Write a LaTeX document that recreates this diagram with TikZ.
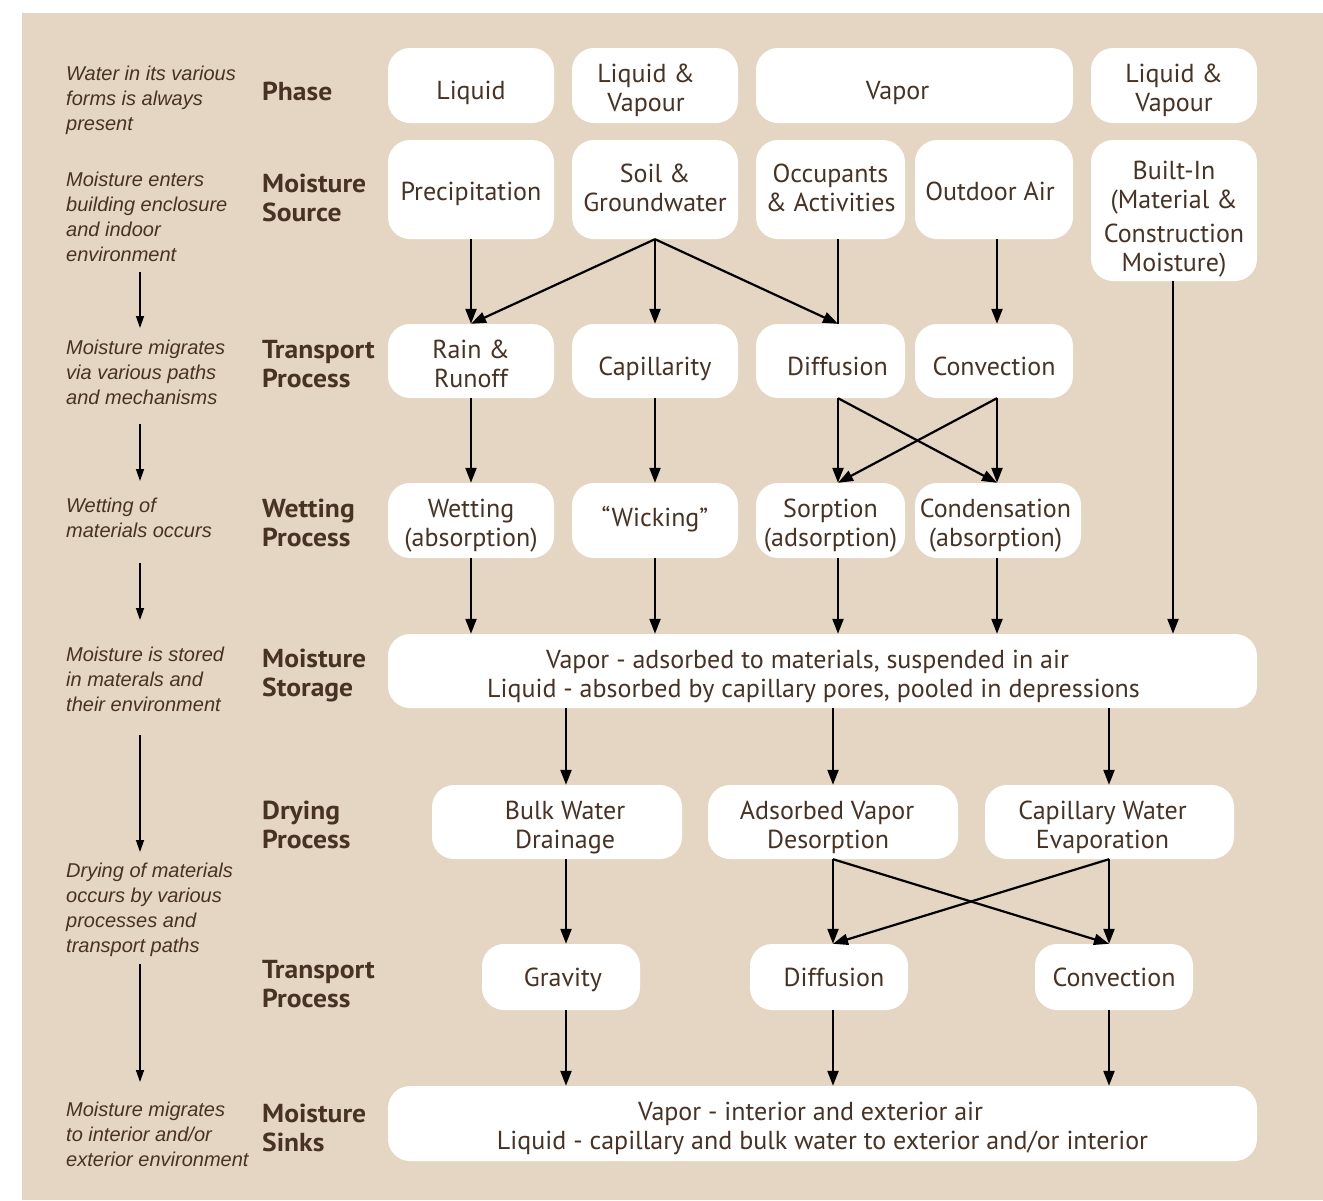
\documentclass[tikz,border=0pt]{standalone}
\usepackage{fontspec}
\setmainfont{PT Sans}
\newfontfamily\notefont{Liberation Sans}
\newfontfamily\lblfont{PT Sans}[FakeStretch=1.06]
\usetikzlibrary{arrows.meta}
\definecolor{bg}{RGB}{228,214,194}
\definecolor{txt}{RGB}{72,50,36}
\newcommand\bxh{34pt}
\newcommand\bxd{6pt}
\newcommand\fl[1]{\rule{0pt}{#1}}
\tikzset{
  bxh/.code={\def\bxh{#1}},
  bxd/.code={\def\bxd{#1}},
  box/.style={rounded corners=22pt, fill=white, draw=none, align=center, text=txt,
    inner sep=0pt, font=\fontsize{26}{29}\selectfont,
    execute at begin node={\rule{0pt}{\bxh}},
    execute at end node={\rule[-\bxd]{0pt}{\bxd}}},
  lbl/.style={anchor=north west, inner sep=0pt, align=left, text=txt,
    font=\lblfont\bfseries\fontsize{26}{28.7}\selectfont},
  note/.style={anchor=north west, inner sep=0pt, align=left, text=txt,
    font=\notefont\itshape\fontsize{20}{25}\selectfont},
  flow/.style={line width=2.2pt, -{Triangle[length=15pt,width=11pt]}},
  plain/.style={line width=2.2pt},
  side/.style={line width=1.3pt, -{Triangle[length=12pt,width=8pt]}}
}
\begin{document}
\begin{tikzpicture}[x=1pt,y=-1pt]
\useasboundingbox (0,0) rectangle (1323,1200);
\fill[white] (0,0) rectangle (1323,1200);
\fill[bg] (22,13) rectangle (1323,1200);

% column coordinates
\coordinate (c1) at (471,0);
\coordinate (c2) at (655,0);
\coordinate (c3) at (838,0);
\coordinate (c4) at (997,0);
\coordinate (c5) at (1173,0);
\coordinate (d1) at (566,0);
\coordinate (d2) at (833,0);
\coordinate (d3) at (1109,0);

% left notes
\node[note] (n1) at (66,66) {Water in its various\\forms is always\\present};
\node[note] (n2) at (66,172) {Moisture enters\\building enclosure\\and indoor\\environment};
\node[note] (n3) at (66,340) {Moisture migrates\\via various paths\\and mechanisms};
\node[note] (n4) at (66,498) {Wetting of\\materials occurs};
\node[note] (n5) at (66,647) {Moisture is stored\\in materals and\\their environment};
\node[note] (n6) at (66,863) {Drying of materials\\occurs by various\\processes and\\transport paths};
\node[note] (n7) at (66,1102) {Moisture migrates\\to interior and/or\\exterior environment};

\coordinate (l1s) at (140,272); \coordinate (l1e) at (140,328);
\coordinate (l2s) at (140,424); \coordinate (l2e) at (140,481);
\coordinate (l3s) at (140,563); \coordinate (l3e) at (140,620);
\coordinate (l4s) at (140,735); \coordinate (l4e) at (140,852);
\coordinate (l5s) at (140,964); \coordinate (l5e) at (140,1082);
\draw[side] (l1s) -- (l1e);
\draw[side] (l2s) -- (l2e);
\draw[side] (l3s) -- (l3e);
\draw[side] (l4s) -- (l4e);
\draw[side] (l5s) -- (l5e);

% row labels
\node[lbl] (r1) at (262,82) {Phase};
\node[lbl] (r2) at (262,174) {Moisture\\Source};
\node[lbl] (r3) at (262,340) {Transport\\Process};
\node[lbl] (r4) at (262,499) {Wetting\\Process};
\node[lbl] (r5) at (262,649) {Moisture\\Storage};
\node[lbl] (r6) at (262,801) {Drying\\Process};
\node[lbl] (r7) at (262,960) {Transport\\Process};
\node[lbl] (r8) at (262,1104) {Moisture\\Sinks};

% row 1: phase
\node[box, minimum width=166, minimum height=75] (liq) at (471,85.5) {Liquid};
\node[box, minimum width=166, minimum height=75] (lv1) at (655,85.5) {\fl{28pt}\hspace*{-18pt}Liquid \&\\\hspace*{-18pt}Vapour};
\node[box, minimum width=317, minimum height=75] (vap) at (914.5,85.5) {\hspace*{-34pt}Vapor};
\node[box, minimum width=166, minimum height=75] (lv2) at (1174,85.5) {\fl{28pt}Liquid \&\\Vapour};

% row 2: source
\node[box, bxh=27pt, minimum width=166, minimum height=99] (prec) at (471,189.5) {Precipitation};
\node[box, bxh=27pt, minimum width=166, minimum height=99] (soil) at (655,189.5) {\fl{21pt}Soil \&\\Groundwater};
\node[box, bxh=27pt, minimum width=149, minimum height=99] (occ) at (830.5,189.5) {\fl{21pt}Occupants\\\& Activities};
\node[box, bxh=27pt, minimum width=158, minimum height=99] (out) at (994,189.5) {\hspace*{-8pt}Outdoor Air};
\node[box, minimum width=166, minimum height=141] (built) at (1174,210.5) {\fl{35pt}Built-In\\(Material \&\\[5pt]Construction\\Moisture)};

% row 3: transport
\node[box, minimum width=166, minimum height=74] (rain) at (471,361) {\fl{30pt}Rain \&\\Runoff};
\node[box, minimum width=166, minimum height=74] (capi) at (655,361) {Capillarity};
\node[box, minimum width=149, minimum height=74] (diff) at (830.5,361) {\hspace*{14pt}Diffusion};
\node[box, minimum width=158, minimum height=74] (conv) at (994,361) {Convection};

% row 4: wetting
\node[box, minimum width=166, minimum height=75] (wet) at (471,520.5) {\fl{29pt}Wetting\\(absorption)};
\node[box, minimum width=166, minimum height=75] (wick) at (655,520.5) {\raisebox{7.6pt}{``Wicking''}};
\node[box, minimum width=149, minimum height=75] (sorp) at (830.5,520.5) {\fl{29pt}Sorption\\(adsorption)};
\node[box, minimum width=166, minimum height=75] (cond) at (998,520.5) {\fl{29pt}\hspace*{-5pt}Condensation\\\hspace*{-5pt}(absorption)};

% row 5: storage
\node[box, minimum width=869, minimum height=74] (stor) at (822.5,671) {\fl{29pt}\hspace*{-30pt}Vapor - adsorbed to materials, suspended in air\\\hspace*{-18pt}Liquid - absorbed by capillary pores, pooled in depressions};

% row 6: drying
\node[box, minimum width=250, minimum height=74] (bulk) at (557,822) {\fl{30pt}\hspace*{16pt}Bulk Water\\\hspace*{16pt}Drainage};
\node[box, minimum width=250, minimum height=74] (des) at (833,822) {\fl{30pt}\hspace*{-12pt}Adsorbed Vapor\\\hspace*{-10pt}Desorption};
\node[box, minimum width=249, minimum height=74] (evap) at (1109.5,822) {\fl{30pt}\hspace*{-14pt}Capillary Water\\\hspace*{-14pt}Evaporation};

% row 7: transport
\node[box, bxh=24pt, minimum width=158, minimum height=66] (grav) at (561,977) {\hspace*{4pt}Gravity};
\node[box, bxh=24pt, minimum width=158, minimum height=66] (diff2) at (829,977) {\hspace*{10pt}Diffusion};
\node[box, bxh=24pt, minimum width=158, minimum height=66] (conv2) at (1114,977) {Convection};

% row 8: sinks
\node[box, minimum width=869, minimum height=75] (sink) at (822.5,1123.5) {\fl{29pt}\hspace*{-24pt}Vapor - interior and exterior air\\Liquid - capillary and bulk water to exterior and/or interior};

% connectors: source -> transport
\draw[flow] (prec.south -| c1) -- (rain.north -| c1);
\draw[flow] (soil.south -| c2) -- (rain.north -| c1);
\draw[flow] (soil.south -| c2) -- (capi.north -| c2);
\draw[flow] (soil.south -| c2) -- (diff.north -| c3);
\draw[plain] (occ.south -| c3) -- (diff.north -| c3);
\draw[flow] (out.south -| c4) -- (conv.north -| c4);
\draw[flow] (built.south -| c5) -- (stor.north -| c5);

% transport -> wetting
\draw[flow] (rain.south -| c1) -- (wet.north -| c1);
\draw[flow] (capi.south -| c2) -- (wick.north -| c2);
\draw[flow] (diff.south -| c3) -- (sorp.north -| c3);
\draw[flow] (diff.south -| c3) -- (cond.north -| c4);
\draw[flow] (conv.south -| c4) -- (cond.north -| c4);
\draw[flow] (conv.south -| c4) -- (sorp.north -| c3);

% wetting -> storage
\draw[flow] (wet.south -| c1) -- (stor.north -| c1);
\draw[flow] (wick.south -| c2) -- (stor.north -| c2);
\draw[flow] (sorp.south -| c3) -- (stor.north -| c3);
\draw[flow] (cond.south -| c4) -- (stor.north -| c4);

% storage -> drying
\draw[flow] (stor.south -| d1) -- (bulk.north -| d1);
\draw[flow] (stor.south -| d2) -- (des.north -| d2);
\draw[flow] (stor.south -| d3) -- (evap.north -| d3);

% drying -> transport
\draw[flow] (bulk.south -| d1) -- (grav.north -| d1);
\draw[flow] (des.south -| d2) -- (diff2.north -| d2);
\draw[flow] (des.south -| d2) -- (conv2.north -| d3);
\draw[flow] (evap.south -| d3) -- (conv2.north -| d3);
\draw[flow] (evap.south -| d3) -- (diff2.north -| d2);

% transport -> sinks
\draw[flow] (grav.south -| d1) -- (sink.north -| d1);
\draw[flow] (diff2.south -| d2) -- (sink.north -| d2);
\draw[flow] (conv2.south -| d3) -- (sink.north -| d3);
\end{tikzpicture}
\end{document}
